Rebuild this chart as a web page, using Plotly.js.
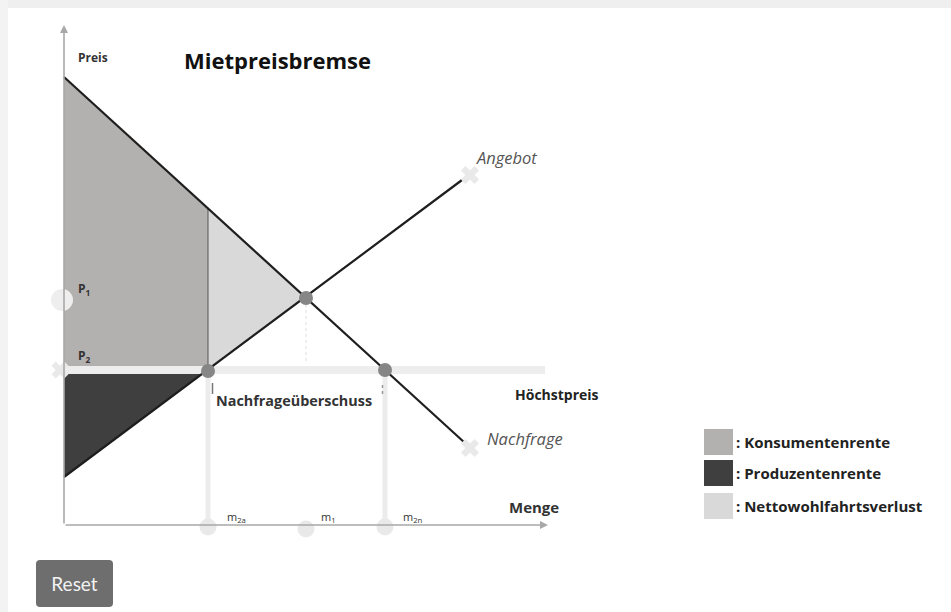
<!DOCTYPE html>
<html>
<head>
<meta charset="utf-8">
<script src="https://cdn.plot.ly/plotly-3.0.1.min.js"></script>
<style>
  html, body { margin: 0; padding: 0; background: #ffffff; }
  #chart { width: 951px; height: 612px; position: absolute; left: 0; top: 0; }
  #reset { position: absolute; left: 36px; top: 560px; width: 77px; height: 47px;
           background: #6e6e6e; color: #f2f2f2; border: none; border-radius: 4px;
           font-family: Lato, "Open Sans", sans-serif; font-size: 19px; padding: 0; }
</style>
</head>
<body>
<div id="chart"></div>
<button id="reset">Reset</button>
<script>
// ---------- data (quantity q, price p) ----------
const demandQ = [0, 40.1];
const demandP = [44.8, 8.2];
const supplyQ = [0, 39.8];
const supplyP = [4.8, 34.5];
const curveEndQ = [40.6, 40.6];
const curveEndP = [7.7, 35.0];
const ceilingPrice = 15.5;
const ceilingSpanQ = [-0.9, 48.1];
const equilibriumQ = 24.2;
const equilibriumP = 22.7;
const m2a = 14.4;          // supplied quantity at the ceiling
const m1 = 24.2;           // equilibrium quantity
const m2n = 32.1;          // demanded quantity at the ceiling
const demandAtM2a = 31.6;
const supplyIntercept = 4.8;
const demandIntercept = 44.8;
const p1 = 22.5;
const axisTopP = 50;
const axisEndQ = 48.4;

const textLabels = {
  title: 'Mietpreisbremse', price: 'Preis', qty: 'Menge',
  supply: 'Angebot', demand: 'Nachfrage', ceiling: 'Höchstpreis',
  excess: 'Nachfrageüberschuss'
};
const legendLabels = [': Konsumentenrente', ': Produzentenrente', ': Nettowohlfahrtsverlust'];
const legendColors = ['#b3b0b0', '#3f3f3f', '#d9d9d9'];

// ---------- helpers (pixel -> data, for placing text) ----------
const X0 = 64, Y0 = 525, U = 10;
const qx = px => (px - X0) / U;
const py = pp => (Y0 - pp) / U;
const FONT = '"Open Sans", Lato, sans-serif';

const traces = [];
// consumer surplus
traces.push({ x: [0, m2a, m2a, 0], y: [demandIntercept, demandAtM2a, ceilingPrice, ceilingPrice],
  fill: 'toself', fillcolor: legendColors[0], mode: 'lines', line: { width: 0 }, hoverinfo: 'skip' });
// dead weight loss
traces.push({ x: [m2a, equilibriumQ, m2a], y: [demandAtM2a, equilibriumP, ceilingPrice],
  fill: 'toself', fillcolor: legendColors[2], mode: 'lines', line: { width: 0 }, hoverinfo: 'skip' });
// producer surplus
traces.push({ x: [0, m2a, 0], y: [ceilingPrice, ceilingPrice, supplyIntercept],
  fill: 'toself', fillcolor: legendColors[1], mode: 'lines', line: { width: 0 }, hoverinfo: 'skip' });
// divider at m2a
traces.push({ x: [m2a, m2a], y: [demandAtM2a, ceilingPrice], mode: 'lines',
  line: { color: '#555', width: 1 }, hoverinfo: 'skip' });
// light verticals down to the quantity axis
traces.push({ x: [m2a, m2a, null, m2n, m2n], y: [ceilingPrice, 0, null, ceilingPrice, 0], mode: 'lines',
  line: { color: '#ececec', width: 5 }, hoverinfo: 'skip' });
// dotted guide from equilibrium
traces.push({ x: [m1, m1], y: [equilibriumP, ceilingPrice + 0.6], mode: 'lines',
  line: { color: '#dddddd', width: 1, dash: 'dot' }, hoverinfo: 'skip' });
// ceiling line
traces.push({ x: ceilingSpanQ, y: [ceilingPrice, ceilingPrice], mode: 'lines',
  line: { color: '#ededed', width: 8 }, hoverinfo: 'skip' });
// small ticks under ceiling
traces.push({ x: [m2a + 0.45, m2a + 0.45], y: [ceilingPrice - 1.3, ceilingPrice - 2.4], mode: 'lines',
  line: { color: '#777', width: 1.5 }, hoverinfo: 'skip' });
traces.push({ x: [m2n - 0.25, m2n - 0.25], y: [ceilingPrice - 1.5, ceilingPrice - 2.6], mode: 'lines',
  line: { color: '#999', width: 1.5, dash: 'dot' }, hoverinfo: 'skip' });
// supply and demand
traces.push({ x: supplyQ, y: supplyP, mode: 'lines', line: { color: '#1e1e1e', width: 2.2 }, hoverinfo: 'skip' });
traces.push({ x: demandQ, y: demandP, mode: 'lines', line: { color: '#1e1e1e', width: 2.2 }, hoverinfo: 'skip' });
// end markers
traces.push({ x: curveEndQ, y: curveEndP, mode: 'markers',
  marker: { symbol: 'x', size: 16, color: '#e9e9e9' }, hoverinfo: 'skip' });
traces.push({ x: [-0.4], y: [ceilingPrice], mode: 'markers',
  marker: { symbol: 'x', size: 15, color: '#e9e9e9' }, hoverinfo: 'skip' });
traces.push({ x: [-0.2], y: [p1], mode: 'markers',
  marker: { symbol: 'circle', size: 22, color: '#eeeeee' }, hoverinfo: 'skip' });
// quantity axis circles
traces.push({ x: [m2a, m1, m2n], y: [-0.2, -0.4, -0.2], mode: 'markers',
  marker: { symbol: 'circle', size: 17, color: '#e9e9e9' }, hoverinfo: 'skip' });
// dark points
traces.push({ x: [m2a, equilibriumQ, m2n], y: [ceilingPrice - 0.1, equilibriumP, ceilingPrice], mode: 'markers',
  marker: { symbol: 'circle', size: 14, color: '#868686' }, hoverinfo: 'skip' });

function lab(text, x, y, size, color) {
  return { text: text, xref: 'x', yref: 'y', x: qx(x), y: py(y), xanchor: 'left', yanchor: 'middle',
    showarrow: false, font: { family: FONT, size: size, color: color || '#333' } };
}
const annotations = [
  // axes arrows
  { x: 0, y: axisTopP, ax: 0, ay: 0, axref: 'x', ayref: 'y', xref: 'x', yref: 'y', showarrow: true,
    arrowhead: 2, arrowsize: 1, arrowwidth: 1.6, arrowcolor: '#a8a8a8', text: '' },
  { x: axisEndQ, y: 0, ax: 0, ay: 0, axref: 'x', ayref: 'y', xref: 'x', yref: 'y', showarrow: true,
    arrowhead: 2, arrowsize: 1, arrowwidth: 1.6, arrowcolor: '#a8a8a8', text: '' },
  lab('<b>' + textLabels.price + '</b>', 76, 57, 12),
  lab('<b>' + textLabels.title + '</b>', 182, 60, 22, '#111'),
  lab('<i>' + textLabels.supply + '</i>', 474, 157, 16.5, '#555'),
  lab('<i>' + textLabels.demand + '</i>', 485, 438, 16.5, '#555'),
  lab('<b>' + textLabels.ceiling + '</b>', 513, 394, 14, '#222'),
  lab('<b>' + textLabels.excess + '</b>', 214, 400, 14.4),
  lab('<b>' + textLabels.qty + '</b>', 507, 507, 15),
  lab('<b>P<sub>1</sub></b>', 76, 289, 12),
  lab('<b>P<sub>2</sub></b>', 76, 356, 12),
  lab('m<sub>2a</sub>', 225, 517, 11),
  lab('m<sub>1</sub>', 319, 517, 11),
  lab('m<sub>2n</sub>', 401, 517, 11)
];
const legendY = [442, 473, 506];
const shapes = [
  { type: 'rect', xref: 'paper', yref: 'paper', x0: 0, x1: 1, y0: 1 - 8 / 612, y1: 1, fillcolor: '#efefef', line: { width: 0 } },
  { type: 'rect', xref: 'paper', yref: 'paper', x0: 0, x1: 8 / 951, y0: 0, y1: 1, fillcolor: '#f3f3f3', line: { width: 0 } }
];
legendLabels.forEach((t, i) => {
  shapes.push({ type: 'rect', xref: 'x', yref: 'y', x0: qx(704), x1: qx(733), y0: py(legendY[i] - 13), y1: py(legendY[i] + 13),
    fillcolor: legendColors[i], line: { width: 0 } });
  annotations.push(lab('<b>' + t + '</b>', 734, legendY[i], 15, '#222'));
});

const layout = {
  width: 951, height: 612, margin: { l: 0, r: 0, t: 0, b: 0 },
  paper_bgcolor: '#ffffff', plot_bgcolor: '#ffffff', showlegend: false,
  xaxis: { range: [qx(0), qx(951)], visible: false, fixedrange: true },
  yaxis: { range: [py(612), py(0)], visible: false, fixedrange: true },
  annotations: annotations, shapes: shapes
};
Plotly.newPlot('chart', traces, layout, { displayModeBar: false, staticPlot: true });
</script>
</body>
</html>
